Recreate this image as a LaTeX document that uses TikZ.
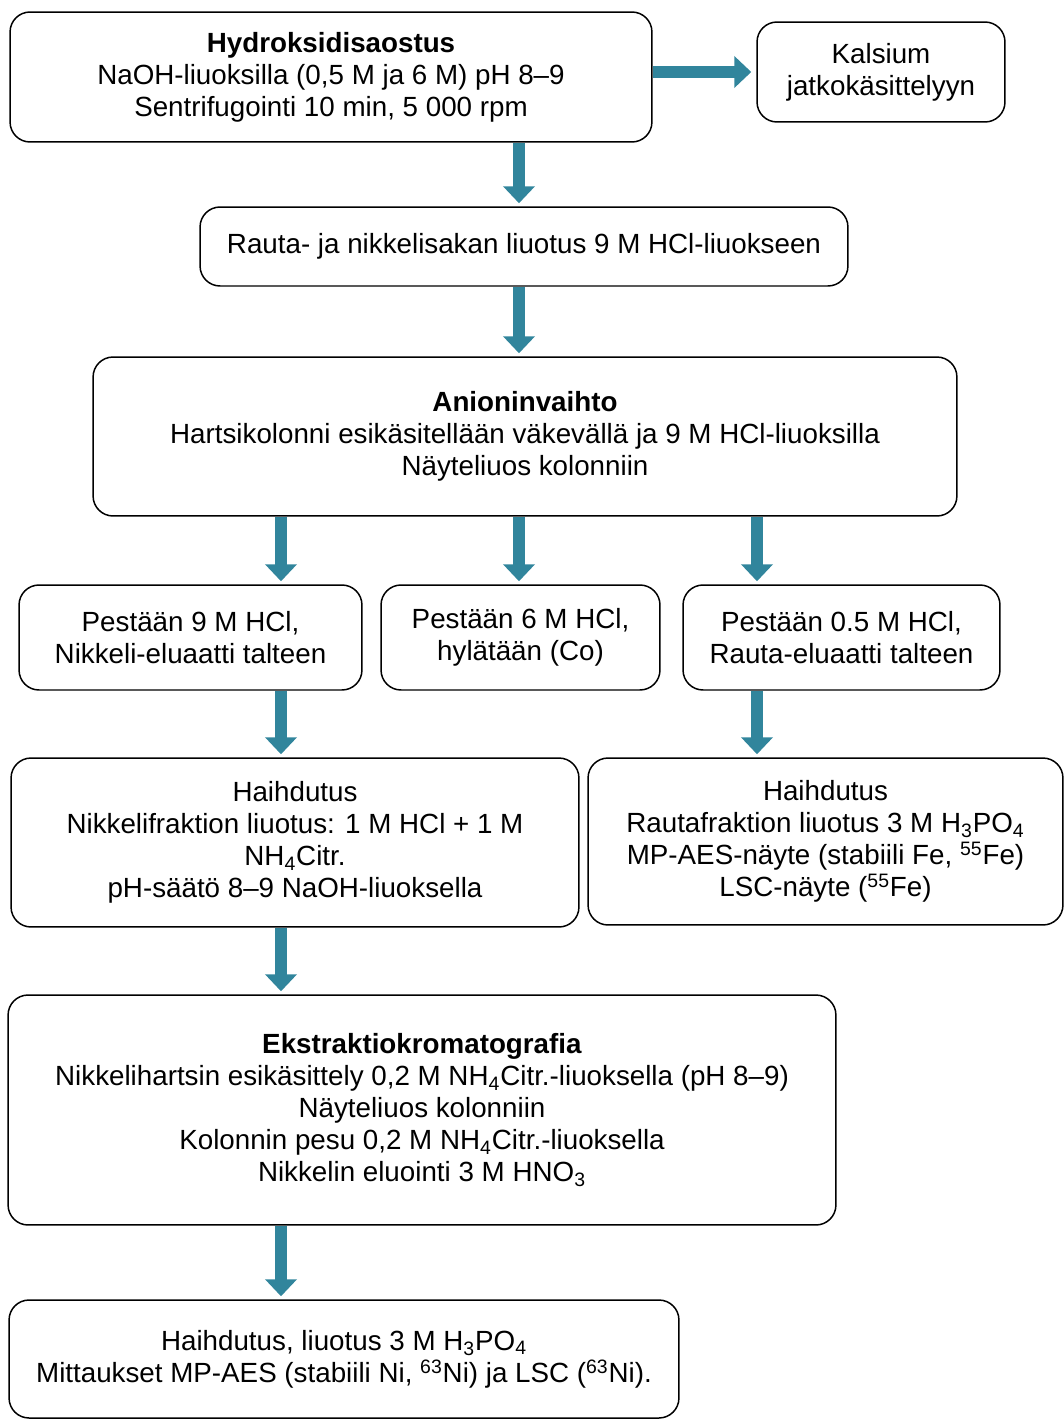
\documentclass[tikz,border=0pt]{standalone}
\usepackage{fontspec}
\setmainfont{Liberation Sans}
\usetikzlibrary{arrows.meta}
\definecolor{flowteal}{RGB}{49,133,156}

\begin{document}
\begin{tikzpicture}[x=0.02cm, y=-0.02cm, rounded corners=0.4cm,
    stepbox/.style={draw=black, line width=0.85pt, fill=white, align=center, inner sep=0pt,
      font=\fontsize{15.8}{18.2}\selectfont},
    flow/.style={draw=flowteal, sharp corners, line width=0.24cm, shorten >=0.06cm,
      -{Triangle[width=0.62cm,length=0.34cm]}}]
      \useasboundingbox (0,0) rectangle (1064,1420);
      % laatikot
      \node[stepbox, minimum width=12.84cm, minimum height=2.6cm] (hydr) at (331,77)
        {\textbf{Hydroksidisaostus}\\NaOH-liuoksilla (0,5 M ja 6 M) pH 8--9\\Sentrifugointi 10 min, 5 000 rpm};
      \node[stepbox, minimum width=4.96cm, minimum height=2.0cm] (kals) at (881,72)
        {Kalsium\\jatkokäsittelyyn};
      \node[stepbox, minimum width=12.96cm, minimum height=1.58cm] (rauta) at (524,246.5)
        {Rauta- ja nikkelisakan liuotus 9 M HCl-liuokseen};
      \node[stepbox, minimum width=17.28cm, minimum height=3.18cm] (anion) at (525,436.5)
        {\textbf{Anioninvaihto}\\Hartsikolonni esikäsitellään väkevällä ja 9 M HCl-liuoksilla\\Näyteliuos kolonniin};
      \node[stepbox, minimum width=6.86cm, minimum height=2.1cm] (pesu9) at (190.5,637.5)
        {Pestään 9 M HCl,\\Nikkeli-eluaatti talteen};
      \node[stepbox, minimum width=5.58cm, minimum height=2.1cm] (pesu6) at (520.5,637.5)
        {Pestään 6 M HCl,\\hylätään (Co)};
      \node[stepbox, minimum width=6.34cm, minimum height=2.1cm] (pesu05) at (841.5,637.5)
        {Pestään 0.5 M HCl,\\Rauta-eluaatti talteen};
      \node[stepbox, minimum width=11.36cm, minimum height=3.38cm] (haiNi) at (295,842.5)
        {Haihdutus\\Nikkelifraktion liuotus: 1 M HCl + 1 M\\NH\textsubscript{4}Citr.\\pH-säätö 8--9 NaOH-liuoksella};
      \node[stepbox, minimum width=9.5cm, minimum height=3.34cm] (haiFe) at (825.5,841.5)
        {Haihdutus\\Rautafraktion liuotus 3 M H\textsubscript{3}PO\textsubscript{4}\\MP-AES-näyte (stabiili Fe, \textsuperscript{55}Fe)\\LSC-näyte (\textsuperscript{55}Fe)};
      \node[stepbox, minimum width=16.56cm, minimum height=4.6cm] (ekstr) at (422,1110)
        {\textbf{Ekstraktiokromatografia}\\Nikkelihartsin esikäsittely 0,2 M NH\textsubscript{4}Citr.-liuoksella (pH 8--9)\\Näyteliuos kolonniin\\Kolonnin pesu 0,2 M NH\textsubscript{4}Citr.-liuoksella\\Nikkelin eluointi 3 M HNO\textsubscript{3}};
      \node[stepbox, minimum width=13.4cm, minimum height=2.36cm] (mitt) at (344,1359)
        {Haihdutus, liuotus 3 M H\textsubscript{3}PO\textsubscript{4}\\Mittaukset MP-AES (stabiili Ni, \textsuperscript{63}Ni) ja LSC (\textsuperscript{63}Ni).};
      % nuolet
      \coordinate (colA) at (281,0);
      \coordinate (colB) at (519,0);
      \coordinate (colC) at (757,0);
      \draw[flow, shorten >=0.1cm] (hydr.east |- kals.west) -- (kals.west);
      \draw[flow] (colB |- hydr.south) -- (colB |- rauta.north);
      \draw[flow] (colB |- rauta.south) -- (colB |- anion.north);
      \foreach \c/\b in {colA/pesu9, colB/pesu6, colC/pesu05}
        \draw[flow] (\c |- anion.south) -- (\c |- \b.north);
      \draw[flow] (colA |- pesu9.south) -- (colA |- haiNi.north);
      \draw[flow] (colC |- pesu05.south) -- (colC |- haiFe.north);
      \draw[flow] (colA |- haiNi.south) -- (colA |- ekstr.north);
      \draw[flow] (colA |- ekstr.south) -- (colA |- mitt.north);
    \end{tikzpicture}
\end{document}
